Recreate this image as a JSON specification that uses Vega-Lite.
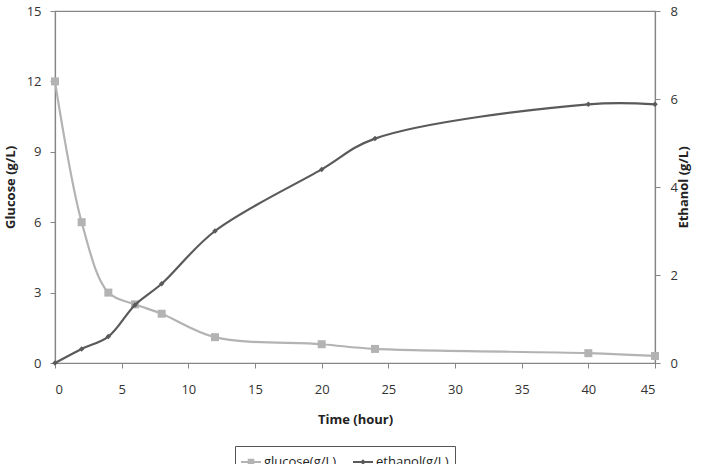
{
  "$schema": "https://vega.github.io/schema/vega-lite/v6.json",
  "width": 600,
  "height": 352,
  "autosize": {"type": "none"},
  "padding": {"left": 55, "top": 11, "right": 54, "bottom": 101},
  "background": "white",
  "config": {
    "font": "Open Sans",
    "view": {"stroke": "#868686", "strokeWidth": 1.2},
    "axis": {
      "grid": false,
      "domainColor": "#868686",
      "domainWidth": 1.2,
      "tickColor": "#868686",
      "tickSize": 5,
      "labelFont": "Open Sans",
      "labelFontSize": 13,
      "labelColor": "#333333",
      "titleFont": "Open Sans",
      "titleFontSize": 13,
      "titleFontWeight": "bold",
      "titleColor": "#222222"
    }
  },
  "data": {
    "values": [
      {"series": "glucose(g/L)", "time": 0, "value": 12.0},
      {"series": "glucose(g/L)", "time": 2, "value": 6.0},
      {"series": "glucose(g/L)", "time": 4, "value": 3.0},
      {"series": "glucose(g/L)", "time": 6, "value": 2.5},
      {"series": "glucose(g/L)", "time": 8, "value": 2.1},
      {"series": "glucose(g/L)", "time": 12, "value": 1.1},
      {"series": "glucose(g/L)", "time": 20, "value": 0.8},
      {"series": "glucose(g/L)", "time": 24, "value": 0.6},
      {"series": "glucose(g/L)", "time": 40, "value": 0.42},
      {"series": "glucose(g/L)", "time": 45, "value": 0.3},
      {"series": "ethanol(g/L)", "time": 0, "value": 0.0},
      {"series": "ethanol(g/L)", "time": 2, "value": 0.32},
      {"series": "ethanol(g/L)", "time": 4, "value": 0.6},
      {"series": "ethanol(g/L)", "time": 6, "value": 1.32},
      {"series": "ethanol(g/L)", "time": 8, "value": 1.8},
      {"series": "ethanol(g/L)", "time": 12, "value": 3.0},
      {"series": "ethanol(g/L)", "time": 20, "value": 4.4},
      {"series": "ethanol(g/L)", "time": 24, "value": 5.1},
      {"series": "ethanol(g/L)", "time": 40, "value": 5.88},
      {"series": "ethanol(g/L)", "time": 45, "value": 5.88}
    ]
  },
  "encoding": {
    "x": {
      "field": "time",
      "type": "quantitative",
      "scale": {"domain": [0, 45], "nice": false, "zero": false},
      "axis": {
        "title": "Time (hour)",
        "values": [0, 5, 10, 15, 20, 25, 30, 35, 40, 45],
        "labelPadding": 15,
        "titlePadding": 17
      }
    },
    "color": {
      "field": "series",
      "type": "nominal",
      "scale": {
        "domain": ["glucose(g/L)", "ethanol(g/L)"],
        "range": ["#b3b3b3", "#5a5a5a"]
      },
      "legend": {
        "title": null,
        "orient": "none",
        "legendX": 180,
        "legendY": 435,
        "direction": "horizontal",
        "strokeColor": "#555555",
        "padding": 6,
        "labelFont": "Open Sans",
        "labelFontSize": 13,
        "labelColor": "#222222",
        "symbolSize": 400,
        "columnPadding": 16,
        "labelOffset": 3,
        "encode": {
          "symbols": {
            "update": {
              "shape": {"signal": "datum.value === 'glucose(g/L)' ? 'M-1,-0.09H1V0.09H-1Z M-0.33,-0.33H0.33V0.33H-0.33Z' : 'M-1,-0.09H1V0.09H-1Z M0,-0.28L0.28,0L0,0.28L-0.28,0Z'"},
              "fill": {"signal": "datum.value === 'glucose(g/L)' ? '#b3b3b3' : '#5a5a5a'"},
              "strokeWidth": {"value": 0},
              "opacity": {"value": 1}
            }
          }
        }
      }
    }
  },
  "layer": [
    {
      "transform": [{"filter": "datum.series === 'glucose(g/L)'"}],
      "encoding": {
        "y": {
          "field": "value",
          "type": "quantitative",
          "scale": {"domain": [0, 15], "nice": false},
          "axis": {
            "title": "Glucose (g/L)",
            "orient": "left",
            "values": [0, 3, 6, 9, 12, 15],
            "labelPadding": 9,
            "titlePadding": 9
          }
        }
      },
      "layer": [
        {"mark": {"type": "line", "interpolate": "catmull-rom", "strokeWidth": 2.2}},
        {"mark": {"type": "point", "shape": "square", "filled": true, "size": 64, "opacity": 1}}
      ]
    },
    {
      "transform": [{"filter": "datum.series === 'ethanol(g/L)'"}],
      "encoding": {
        "y": {
          "field": "value",
          "type": "quantitative",
          "scale": {"domain": [0, 8], "nice": false},
          "axis": {
            "title": "Ethanol (g/L)",
            "orient": "right",
            "values": [0, 2, 4, 6, 8],
            "labelPadding": 10,
            "titlePadding": 13,
            "titleAngle": 270
          }
        }
      },
      "layer": [
        {"mark": {"type": "line", "interpolate": "catmull-rom", "strokeWidth": 2.2}},
        {"mark": {"type": "point", "shape": "diamond", "filled": true, "size": 30, "opacity": 1}}
      ]
    }
  ],
  "resolve": {"scale": {"y": "independent"}}
}
